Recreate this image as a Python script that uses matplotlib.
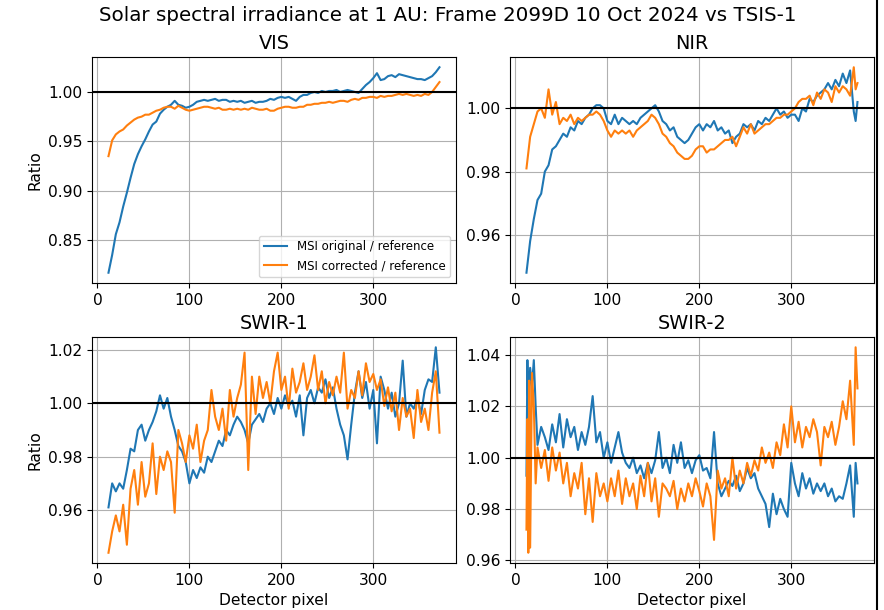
import numpy as np
import matplotlib
matplotlib.use("Agg")
import matplotlib.pyplot as plt
from matplotlib.lines import Line2D

plt.rcParams['font.size'] = 11.2

# detector pixel positions (sampled)
x_vis = list(range(12, 373, 4))
x_nir = list(range(12, 369, 4)) + [370, 372]
x_swir1 = list(range(12, 373, 4))
x_swir2 = [12, 13, 14, 15, 16, 18, 20, 22] + list(range(24, 369, 4)) + [370, 372]

# VIS ratios
vis_orig = [0.817, 0.835, 0.856, 0.868, 0.884, 0.898, 0.913, 0.927, 0.937, 0.945,
            0.952, 0.960, 0.967, 0.970, 0.978, 0.982, 0.985, 0.987, 0.991, 0.987,
            0.986, 0.984, 0.985, 0.987, 0.990, 0.991, 0.992, 0.991, 0.992, 0.993,
            0.991, 0.992, 0.992, 0.990, 0.991, 0.990, 0.991, 0.989, 0.990, 0.991,
            0.989, 0.990, 0.990, 0.991, 0.993, 0.992, 0.994, 0.995, 0.994, 0.995,
            0.993, 0.991, 0.995, 0.997, 0.997, 0.999, 1.000, 0.999, 1.001, 1.000,
            1.001, 1.001, 1.002, 1.000, 1.001, 1.002, 1.001, 1.000, 0.999, 1.003,
            1.007, 1.010, 1.014, 1.019, 1.012, 1.013, 1.016, 1.017, 1.015, 1.018,
            1.017, 1.016, 1.015, 1.014, 1.013, 1.013, 1.012, 1.014, 1.016, 1.020,
            1.025]
vis_corr = [0.935, 0.951, 0.957, 0.960, 0.962, 0.966, 0.969, 0.972, 0.974, 0.975,
            0.977, 0.977, 0.979, 0.981, 0.982, 0.984, 0.985, 0.985, 0.983, 0.986,
            0.984, 0.982, 0.981, 0.982, 0.983, 0.984, 0.985, 0.985, 0.984, 0.983,
            0.984, 0.982, 0.982, 0.983, 0.982, 0.983, 0.982, 0.983, 0.982, 0.984,
            0.983, 0.982, 0.982, 0.983, 0.981, 0.981, 0.983, 0.984, 0.985, 0.985,
            0.984, 0.984, 0.985, 0.985, 0.987, 0.987, 0.988, 0.988, 0.989, 0.989,
            0.990, 0.989, 0.990, 0.991, 0.991, 0.990, 0.992, 0.993, 0.992, 0.994,
            0.994, 0.995, 0.995, 0.994, 0.996, 0.995, 0.996, 0.996, 0.997, 0.998,
            0.997, 0.998, 0.997, 0.996, 0.997, 0.996, 0.998, 0.997, 1.000, 1.005,
            1.010]

# NIR ratios
nir_orig = [0.948, 0.958, 0.965, 0.971, 0.973, 0.980, 0.982, 0.987, 0.988, 0.990,
            0.992, 0.991, 0.994, 0.993, 0.996, 0.995, 0.997, 0.998, 1.000, 1.001,
            1.001, 1.000, 0.996, 0.995, 0.998, 0.995, 0.997, 0.996, 0.995, 0.996,
            0.995, 0.997, 0.998, 0.999, 1.000, 1.001, 0.999, 0.996, 0.995, 0.993,
            0.994, 0.991, 0.990, 0.989, 0.990, 0.992, 0.994, 0.995, 0.993, 0.995,
            0.994, 0.996, 0.993, 0.994, 0.992, 0.993, 0.989, 0.991, 0.992, 0.995,
            0.994, 0.995, 0.993, 0.996, 0.995, 0.997, 0.996, 0.998, 1.000, 0.998,
            0.999, 0.997, 0.998, 0.998, 0.996, 1.000, 0.999, 1.003, 1.002, 1.004,
            1.005, 1.006, 1.008, 1.006, 1.009, 1.007, 1.011, 1.008, 1.012, 0.999,
            0.996, 1.002]
nir_corr = [0.981, 0.991, 0.995, 0.999, 1.000, 0.997, 1.006, 0.998, 1.002, 0.995,
            0.997, 0.996, 0.998, 0.995, 0.997, 0.996, 0.997, 0.998, 0.998, 0.999,
            0.998, 0.996, 0.993, 0.991, 0.993, 0.992, 0.993, 0.992, 0.993, 0.991,
            0.993, 0.994, 0.995, 0.996, 0.998, 0.997, 0.995, 0.992, 0.991, 0.989,
            0.988, 0.986, 0.985, 0.984, 0.984, 0.985, 0.987, 0.988, 0.988, 0.986,
            0.987, 0.987, 0.988, 0.989, 0.990, 0.990, 0.991, 0.988, 0.991, 0.994,
            0.992, 0.995, 0.992, 0.993, 0.994, 0.995, 0.995, 0.996, 0.997, 0.997,
            0.998, 0.998, 0.999, 1.000, 1.002, 1.003, 1.003, 1.004, 1.001, 1.005,
            1.003, 1.006, 1.005, 1.002, 1.007, 1.005, 1.007, 1.006, 1.004, 1.013,
            1.006, 1.008]

# SWIR-1 ratios
swir1_orig = [0.961, 0.970, 0.967, 0.970, 0.968, 0.975, 0.983, 0.982, 0.990, 0.992,
              0.986, 0.990, 0.993, 0.997, 1.003, 0.998, 1.002, 0.995, 0.990, 0.984,
              0.982, 0.978, 0.970, 0.975, 0.972, 0.976, 0.974, 0.980, 0.978, 0.982,
              0.986, 0.984, 0.990, 0.988, 0.992, 0.995, 0.993, 0.990, 0.985, 0.992,
              0.994, 0.996, 0.993, 0.998, 1.000, 0.996, 1.002, 0.998, 1.003, 0.999,
              1.001, 0.995, 1.003, 0.988, 1.002, 1.005, 1.000, 1.006, 1.004, 1.009,
              1.002, 1.006, 0.998, 0.992, 0.988, 0.979, 0.992, 1.004, 1.012, 1.002,
              1.008, 0.998, 1.005, 0.985, 1.010, 1.005, 0.998, 1.004, 0.995, 1.000,
              1.016, 0.995, 1.000, 0.998, 1.002, 0.996, 1.005, 1.009, 1.008, 1.021,
              1.004]
swir1_corr = [0.944, 0.952, 0.958, 0.952, 0.962, 0.947, 0.968, 0.975, 0.962, 0.978,
              0.965, 0.970, 0.985, 0.966, 0.980, 0.975, 0.982, 0.978, 0.959, 0.990,
              0.985, 0.978, 0.988, 0.983, 0.992, 0.978, 0.986, 0.990, 1.005, 0.995,
              0.990, 0.998, 0.986, 1.005, 0.995, 1.002, 1.007, 1.019, 0.975, 1.010,
              0.996, 1.010, 1.002, 1.008, 1.000, 1.012, 1.019, 1.005, 1.010, 0.998,
              1.013, 1.004, 1.008, 1.015, 1.005, 1.010, 1.018, 1.005, 1.012, 1.000,
              1.008, 1.003, 1.010, 1.004, 1.019, 0.998, 1.005, 1.002, 1.012, 1.003,
              1.015, 1.008, 1.011, 1.005, 1.009, 0.999, 1.006, 0.997, 1.004, 0.990,
              1.002, 0.995, 0.998, 0.987, 1.005, 0.993, 0.998, 0.990, 1.004, 1.012,
              0.989]

# SWIR-2 ratios
swir2_orig = [0.993, 1.038, 1.018, 1.025, 1.035, 1.028, 1.038, 1.020,
              1.005, 1.012, 1.008, 1.003, 1.013, 1.006, 1.017, 1.004, 1.015, 1.008,
              1.012, 1.003, 1.010, 1.005, 1.012, 1.024, 1.006, 1.010, 1.000, 1.006,
              0.998, 1.004, 1.010, 1.002, 0.998, 0.996, 1.000, 0.994, 0.997, 0.992,
              0.998, 0.994, 0.999, 1.010, 0.996, 1.000, 0.994, 1.005, 0.998, 1.006,
              0.996, 0.999, 0.994, 0.999, 1.001, 0.995, 0.996, 0.992, 1.010, 0.990,
              0.985, 0.988, 0.991, 0.989, 0.993, 0.987, 0.990, 0.996, 0.992, 0.994,
              0.988, 0.985, 0.982, 0.973, 0.986, 0.978, 0.984, 0.980, 0.977, 0.998,
              0.990, 0.985, 0.994, 0.988, 0.992, 0.986, 0.990, 0.987, 0.990, 0.985,
              0.988, 0.983, 0.985, 0.984, 0.990, 0.997, 0.977, 0.998, 0.990]
swir2_corr = [0.972, 1.015, 0.963, 1.030, 0.965, 1.033, 1.020, 0.990,
              1.004, 0.996, 1.003, 0.991, 1.004, 0.995, 1.002, 0.990, 0.998, 0.985,
              0.994, 0.988, 0.998, 0.978, 0.992, 0.975, 0.994, 0.985, 0.990, 0.983,
              0.992, 0.985, 0.995, 0.982, 0.992, 0.985, 0.990, 0.980, 0.993, 0.985,
              0.998, 0.983, 0.992, 0.977, 0.990, 0.988, 0.985, 0.991, 0.980, 0.988,
              0.983, 0.990, 0.985, 0.992, 0.987, 0.981, 0.990, 0.985, 0.968, 0.995,
              0.988, 0.992, 0.985, 1.000, 0.988, 0.995, 0.990, 0.998, 0.993, 0.999,
              0.995, 1.004, 0.998, 1.002, 0.996, 1.006, 1.001, 1.013, 1.004, 1.020,
              1.006, 1.014, 1.004, 1.012, 1.008, 1.015, 1.010, 0.997, 1.012, 1.008,
              1.014, 1.005, 1.012, 1.022, 1.015, 1.030, 1.005, 1.043, 1.027]

bands = ["VIS", "NIR", "SWIR-1", "SWIR-2"]
xs = [x_vis, x_nir, x_swir1, x_swir2]
originals = [vis_orig, nir_orig, swir1_orig, swir2_orig]
corrected = [vis_corr, nir_corr, swir1_corr, swir2_corr]

fig, axes = plt.subplots(2, 2, figsize=(8.84, 6.10), dpi=100)
fig.subplots_adjust(left=0.104, right=0.9887, top=0.9066, bottom=0.077,
                    wspace=0.148, hspace=0.239)

for i, ax in enumerate(axes.flat):
    ax.plot(xs[i], originals[i], color='#1f77b4', lw=1.5, label='MSI original / reference')
    ax.plot(xs[i], corrected[i], color='#ff7f0e', lw=1.5, label='MSI corrected / reference')
    ax.axhline(1.0, color='black', lw=1.5)
    ax.set_title(bands[i], fontsize=13.9)
    ax.grid(True)
    if i % 2 == 0:
        ax.set_ylabel('Ratio')
    if i >= 2:
        ax.set_xlabel('Detector pixel')
    if i == 0:
        ax.legend(loc='lower right', fontsize=8.5)

fig.suptitle('Solar spectral irradiance at 1 AU: Frame 2099D 10 Oct 2024 vs TSIS-1',
             fontsize=14.3, x=0.507, y=0.99)

# frame edge at the right of the screenshot
fig.add_artist(Line2D([877 / 884, 877 / 884], [0, 1], color='black', lw=1.5))

fig.savefig('out.png', dpi=100)
